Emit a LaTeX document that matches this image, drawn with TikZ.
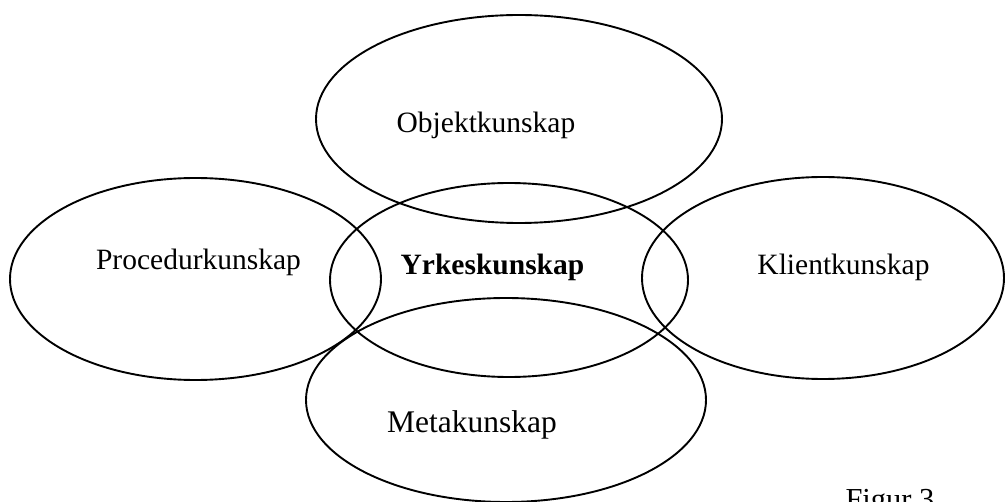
\documentclass[tikz,border=0pt]{standalone}
\usepackage{fontspec}
\setmainfont{Liberation Serif}
\usetikzlibrary{shapes.geometric}
\begin{document}
\begin{tikzpicture}[x=1pt,y=-1pt,
  oval/.style={ellipse, draw, line width=1.9pt, inner sep=0pt, outer sep=0pt},
  lbl/.style={anchor=base, inner sep=0pt, font=\fontsize{29.5}{34}\selectfont}]
\useasboundingbox (0,0) rectangle (1006,502);
\node[oval, minimum width=406, minimum height=208] (obj) at (519,119) {};
\node[oval, minimum width=371, minimum height=202] (proc) at (195.5,279) {};
\node[oval, minimum width=358, minimum height=194] (yrk) at (509,280) {};
\node[oval, minimum width=362, minimum height=202] (kli) at (823,278) {};
\node[oval, minimum width=400, minimum height=204] (meta) at (506,400) {};
\node[lbl] (tobj) at (486,133) {Objektkunskap};
\node[lbl] (tproc) at (198.5,270) {Procedurkunskap};
\node[lbl, font=\fontsize{29.5}{34}\selectfont\bfseries] (tyrk) at (492.5,275) {Yrkeskunskap};
\node[lbl] (tkli) at (843.5,275) {Klientkunskap};
\node[lbl, font=\fontsize{31.5}{36}\selectfont] (tmeta) at (472,432) {Metakunskap};
\node[lbl, font=\fontsize{30.5}{35}\selectfont] (fig) at (890,509) {Figur 3};
\end{tikzpicture}
\end{document}
